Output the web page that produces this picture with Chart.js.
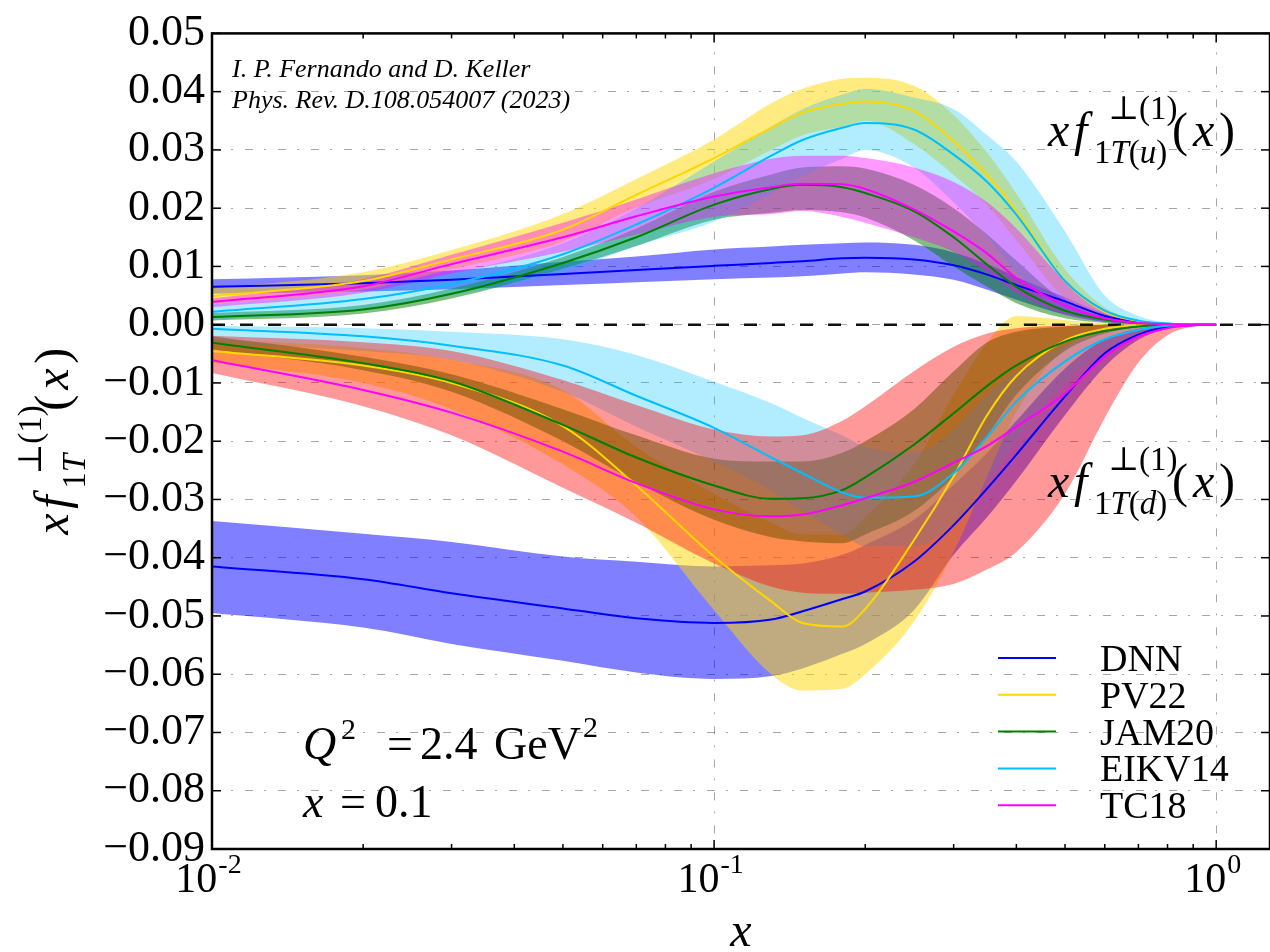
<!DOCTYPE html>
<html>
<head>
<meta charset="utf-8">
<script src="https://cdn.jsdelivr.net/npm/chart.js@4.4.0/dist/chart.umd.min.js"></script>
<style>
  body { margin: 0; background: #fff; }
  canvas { display: block; }
</style>
</head>
<body>
<canvas id="sivers" width="1270" height="952"></canvas>
<script>
// x grid shared by every curve
const xs = [0.01, 0.02, 0.03, 0.05, 0.07, 0.1, 0.13, 0.15, 0.18, 0.2, 0.25, 0.3, 0.35, 0.4, 0.5, 0.6, 0.7, 0.8, 0.9, 1.0];
const xMax = 1.28;
const xTicks = [0.01, 0.1, 1];
const yTicks = [0.05, 0.04, 0.03, 0.02, 0.01, 0, -0.01, -0.02, -0.03, -0.04, -0.05, -0.06, -0.07, -0.08, -0.09];

// u quark: central value, upper and lower edge of the band
const dnnU   = [.0065, .0071, .0077, .0087, .0094, .0101, .0106, .0109, .0114, .0115, .0112, .0102, .0086, .0068, .0040, .0015, .0005, .0001, 0, 0];
const dnnUHi = [.0078, .0085, .0093, .0108, .0117, .0129, .0134, .0137, .0140, .0141, .0137, .0124, .0104, .0082, .0047, .0019, .0006, .0002, 0, 0];
const dnnULo = [.0053, .0057, .0061, .0068, .0073, .0078, .0081, .0083, .0088, .0090, .0086, .0077, .0060, .0043, .0017, .0005, .0001, 0, 0, 0];

const pvU   = [.0049, .0075, .0112, .0163, .0223, .0286, .0338, .0364, .0379, .0383, .0367, .0315, .0257, .0196, .0075, .0022, .0006, .0001, 0, 0];
const pvUHi = [.0062, .0090, .0128, .0190, .0250, .0318, .0380, .0405, .0422, .0424, .0410, .0360, .0295, .0225, .0095, .0030, .0008, .0002, 0, 0];
const pvULo = [.0036, .0060, .0095, .0143, .0201, .0250, .0300, .0325, .0340, .0350, .0310, .0257, .0205, .0145, .0045, .0012, .0003, 0, 0, 0];

const jamU   = [.0013, .0026, .0053, .0106, .0150, .0206, .0233, .0240, .0236, .0226, .0195, .0150, .0103, .0065, .0024, .0009, .0003, .0001, 0, 0];
const jamUHi = [.0020, .0034, .0062, .0116, .0165, .0228, .0258, .0270, .0272, .0268, .0240, .0200, .0155, .0110, .0040, .0013, .0004, .0001, 0, 0];
const jamULo = [.0007, .0019, .0045, .0096, .0135, .0180, .0192, .0197, .0193, .0184, .0145, .0100, .0065, .0037, .0011, .0003, 0, 0, 0, 0];

const eikU   = [.0022, .0044, .0070, .0121, .0172, .0235, .0290, .0317, .0338, .0346, .0335, .0292, .0245, .0189, .0075, .0024, .0007, .0002, 0, 0];
const eikUHi = [.0035, .0060, .0088, .0140, .0200, .0280, .0340, .0370, .0395, .0405, .0390, .0370, .0325, .0280, .0160, .0050, .0015, .0004, .0001, 0];
const eikULo = [.0008, .0025, .0050, .0090, .0135, .0177, .0225, .0255, .0285, .0300, .0270, .0210, .0150, .0090, .0020, .0005, .0001, 0, 0, 0];

const tcU   = [.0039, .0066, .0104, .0150, .0186, .0220, .0236, .0242, .0241, .0233, .0198, .0160, .0122, .0080, .0033, .0011, .0003, .0001, 0, 0];
const tcUHi = [.0045, .0078, .0120, .0175, .0215, .0260, .0285, .0290, .0290, .0286, .0270, .0245, .0210, .0165, .0075, .0025, .0007, .0001, 0, 0];
const tcULo = [.0030, .0055, .0088, .0125, .0155, .0185, .0190, .0195, .0185, .0175, .0150, .0125, .0090, .0055, .0018, .0005, .0001, 0, 0, 0];

// d quark
const dnnD   = [-.0415, -.0437, -.0461, -.0487, -.0504, -.0512, -.0506, -.0492, -.0471, -.0458, -.0407, -.0344, -.0281, -.0223, -.0123, -.0049, -.0017, -.0004, -.0001, 0];
const dnnDHi = [-.0337, -.0359, -.0373, -.0398, -.0407, -.0415, -.0413, -.0410, -.0395, -.0378, -.0335, -.0275, -.0220, -.0165, -.0075, -.0025, -.0007, -.0001, 0, 0];
const dnnDLo = [-.0495, -.0520, -.0548, -.0577, -.0597, -.0608, -.0603, -.0590, -.0565, -.0548, -.0490, -.0395, -.0330, -.0268, -.0155, -.0072, -.0026, -.0007, -.0001, 0];

const pvD   = [-.0045, -.0070, -.0100, -.0174, -.0276, -.0398, -.0475, -.0512, -.0518, -.0488, -.0370, -.0260, -.0155, -.0088, -.0027, -.0007, -.0001, 0, 0, 0];
const pvDHi = [-.0025, -.0040, -.0060, -.0112, -.0210, -.0290, -.0340, -.0360, -.0360, -.0330, -.0240, -.0120, -.0030, .0015, .0008, .0002, 0, 0, 0, 0];
const pvDLo = [-.0065, -.0100, -.0145, -.0240, -.0330, -.0490, -.0600, -.0628, -.0625, -.0600, -.0510, -.0390, -.0260, -.0150, -.0040, -.0010, -.0002, 0, 0, 0];

const jamD   = [-.0031, -.0066, -.0097, -.0172, -.0228, -.0276, -.0299, -.0298, -.0284, -.0262, -.0206, -.0152, -.0105, -.0070, -.0029, -.0011, -.0003, 0, 0, 0];
const jamDHi = [-.0020, -.0055, -.0085, -.0145, -.0190, -.0230, -.0235, -.0235, -.0220, -.0200, -.0145, -.0080, -.0030, -.0012, -.0003, 0, 0, 0, 0, 0];
const jamDLo = [-.0042, -.0078, -.0115, -.0200, -.0270, -.0335, -.0365, -.0372, -.0375, -.0360, -.0320, -.0260, -.0190, -.0120, -.0045, -.0015, -.0004, 0, 0, 0];

const eikD   = [-.0007, -.0020, -.0036, -.0070, -.0122, -.0177, -.0228, -.0255, -.0288, -.0297, -.0295, -.0255, -.0192, -.0132, -.0063, -.0025, -.0009, -.0002, 0, 0];
const eikDHi = [-.0002, -.0006, -.0012, -.0025, -.0052, -.0098, -.0135, -.0160, -.0190, -.0210, -.0220, -.0180, -.0120, -.0080, -.0035, -.0012, -.0004, 0, 0, 0];
const eikDLo = [-.0032, -.0045, -.0060, -.0115, -.0175, -.0235, -.0285, -.0320, -.0360, -.0380, -.0380, -.0340, -.0270, -.0200, -.0100, -.0045, -.0016, -.0004, 0, 0];

const tcD   = [-.0061, -.0112, -.0151, -.0218, -.0272, -.0317, -.0329, -.0326, -.0310, -.0298, -.0270, -.0237, -.0208, -.0175, -.0118, -.0055, -.0020, -.0006, -.0001, 0];
const tcDHi = [-.0019, -.0030, -.0045, -.0095, -.0138, -.0180, -.0192, -.0190, -.0165, -.0140, -.0080, -.0038, -.0015, -.0006, -.0002, 0, 0, 0, 0, 0];
const tcDLo = [-.0083, -.0140, -.0190, -.0280, -.0340, -.0410, -.0450, -.0460, -.0462, -.0460, -.0455, -.0445, -.0420, -.0390, -.0290, -.0160, -.0065, -.0018, -.0003, 0];

const models = [
  { name: 'DNN',    color: '#0000ff', bandU: 'rgba(0,0,255,0.5)',    bandD: 'rgba(0,0,255,0.5)',    u: [dnnU, dnnUHi, dnnULo], d: [dnnD, dnnDHi, dnnDLo] },
  { name: 'PV22',   color: '#ffd700', bandU: 'rgba(255,215,0,0.5)',  bandD: 'rgba(255,215,0,0.5)',  u: [pvU, pvUHi, pvULo],    d: [pvD, pvDHi, pvDLo] },
  { name: 'JAM20',  color: '#008000', bandU: 'rgba(0,128,0,0.5)',    bandD: 'rgba(0,128,0,0.5)',    u: [jamU, jamUHi, jamULo], d: [jamD, jamDHi, jamDLo] },
  { name: 'EIKV14', color: '#00bfff', bandU: 'rgba(0,191,255,0.3)',  bandD: 'rgba(0,191,255,0.3)',  u: [eikU, eikUHi, eikULo], d: [eikD, eikDHi, eikDLo] },
  { name: 'TC18',   color: '#ff00ff', bandU: 'rgba(255,0,255,0.4)',  bandD: 'rgba(255,0,0,0.4)',    u: [tcU, tcUHi, tcULo],    d: [tcD, tcDHi, tcDLo] }
];

const pts = arr => xs.map((x, i) => ({ x, y: arr[i] }));
const smooth = { pointRadius: 0, cubicInterpolationMode: 'monotone' };

const datasets = [];
// bands: upper edge fills down to the lower edge that follows it
models.forEach((m, k) => {
  [[m.u, m.bandU], [m.d, m.bandD]].forEach(([[, hi, lo], col]) => {
    datasets.push({ ...smooth, data: pts(hi), fill: '+1', backgroundColor: col, borderColor: 'transparent', borderWidth: 1, order: 20 - k });
    datasets.push({ ...smooth, data: pts(lo), fill: false, borderColor: 'transparent', borderWidth: 1, order: 20 - k });
  });
});
datasets.push({ data: [{ x: xs[0], y: 0 }, { x: xMax, y: 0 }], borderColor: '#111', borderWidth: 2.5, borderDash: [13, 15], pointRadius: 0, fill: false, order: 8 });
models.forEach((m, k) => {
  [m.u[0], m.d[0]].forEach(mid => {
    datasets.push({ ...smooth, label: m.name, data: pts(mid), borderColor: m.color, borderWidth: 2, fill: false, order: 5 - k });
  });
});

const font = (size, italic) => `${italic ? 'italic ' : ''}${size}px "Liberation Serif", "DejaVu Serif", serif`;

// lays out a run of text pieces; "at" jumps to an offset from the start
function run(ctx, x0, y0, parts, draw = true) {
  let cx = x0, end = x0;
  for (const p of parts) {
    if (p.at !== undefined) cx = x0 + p.at;
    ctx.font = font(p.s, p.i);
    if (draw) ctx.fillText(p.t, cx, y0 + (p.dy || 0));
    cx += ctx.measureText(p.t).width;
    end = Math.max(end, cx);
  }
  return end - x0;
}

const fLabel = sub => [
  { t: 'x', s: 48, i: true, at: 0 },
  { t: 'f', s: 48, i: true, at: 26 },
  { t: '\u22A5(1)', s: 33, at: 60, dy: -27 },
  { t: '1', s: 33, at: 46, dy: 17 }, { t: 'T', s: 33, i: true, dy: 17 }, ...sub,
  { t: '(', s: 48, at: 124 }, { t: 'x', s: 48, i: true, at: 145 }, { t: ')', s: 48, at: 171 }
];
const flavour = q => [{ t: '(', s: 33, dy: 17 }, { t: q, s: 33, i: true, dy: 17 }, { t: ')', s: 33, dy: 17 }];

const decor = {
  id: 'decor',
  afterDraw(chart) {
    const { ctx, chartArea: a, scales: { x, y } } = chart;
    ctx.save();
    ctx.strokeStyle = '#000';
    ctx.fillStyle = '#000';

    // inward tick marks on all four sides
    ctx.lineWidth = 1.5;
    const seg = (x1, y1, x2, y2) => { ctx.beginPath(); ctx.moveTo(x1, y1); ctx.lineTo(x2, y2); ctx.stroke(); };
    yTicks.forEach(v => {
      const py = y.getPixelForValue(v);
      seg(a.left, py, a.left + 9, py);
      seg(a.right, py, a.right - 9, py);
    });
    for (let e = -2; e <= 0; e++) {
      for (let m = 1; m <= 9; m++) {
        const v = m * Math.pow(10, e);
        if (v > xMax) break;
        const px = x.getPixelForValue(v);
        const len = m === 1 ? 9 : 5;
        seg(px, a.bottom, px, a.bottom - len);
        seg(px, a.top, px, a.top + len);
      }
    }
    ctx.lineWidth = 2.5;
    ctx.strokeRect(a.left, a.top, a.right - a.left, a.bottom - a.top);

    // decade labels on the x axis
    ctx.textBaseline = 'alphabetic';
    xTicks.forEach(v => {
      const px = x.getPixelForValue(v);
      const exp = String(Math.round(Math.log10(v)));
      ctx.font = font(42);
      const wb = ctx.measureText('10').width;
      ctx.font = font(28);
      const we = ctx.measureText(exp).width;
      const left = px - 4 - (wb + we) / 2;
      ctx.font = font(42);
      ctx.fillText('10', left, 892);
      ctx.font = font(28);
      ctx.fillText(exp, left + wb + 1, 873);
    });

    // axis titles
    ctx.font = font(48, true);
    ctx.textAlign = 'center';
    ctx.fillText('x', (a.left + a.right) / 2, 946);
    ctx.textAlign = 'left';

    const yl = fLabel([]);
    const w = run(ctx, 0, 0, yl, false);
    ctx.save();
    ctx.translate(68, (a.top + a.bottom) / 2 + w / 2);
    ctx.rotate(-Math.PI / 2);
    run(ctx, 0, 0, yl);
    ctx.restore();

    // curve labels
    run(ctx, 1048, 146, fLabel(flavour('u')));
    run(ctx, 1048, 497, fLabel(flavour('d')));

    // reference and kinematics
    ctx.font = font(26, true);
    ctx.fillText('I. P. Fernando and D. Keller', 232, 77);
    ctx.fillText('Phys. Rev. D.108.054007 (2023)', 232, 108);

    run(ctx, 303, 759, [
      { t: 'Q', s: 46, i: true },
      { t: '2', s: 30, at: 38, dy: -20 },
      { t: '=', s: 46, at: 84 },
      { t: '2.4', s: 46, at: 117 },
      { t: 'GeV', s: 46, at: 191 },
      { t: '2', s: 30, at: 280, dy: -22 }
    ]);
    run(ctx, 303, 817, [
      { t: 'x', s: 46, i: true },
      { t: '=', s: 46, at: 37 },
      { t: '0.1', s: 46, at: 72 }
    ]);

    // legend
    models.forEach((m, k) => {
      const ly = 658 + k * 36.8;
      ctx.strokeStyle = m.color;
      ctx.lineWidth = 2;
      seg(998, ly, 1056, ly);
      ctx.font = font(38);
      ctx.fillText(m.name, 1100, ly + 13);
    });
    ctx.restore();
  }
};

const gridColor = 'rgba(0,0,0,0.35)';
const gridDash = [8, 11, 2, 12];

new Chart(document.getElementById('sivers'), {
  type: 'line',
  data: { datasets },
  options: {
    responsive: false,
    animation: false,
    devicePixelRatio: 1,
    layout: { padding: { top: 27, right: 0, bottom: 0, left: 0 } },
    plugins: { legend: { display: false }, tooltip: { enabled: false } },
    scales: {
      x: {
        type: 'logarithmic',
        min: 0.01,
        max: xMax,
        afterBuildTicks: s => { s.ticks = xTicks.map(v => ({ value: v })); },
        afterFit: s => { s.height = 103; },
        ticks: { display: false },
        grid: { color: gridColor, lineWidth: 1, drawTicks: false },
        border: { display: false, dash: gridDash }
      },
      y: {
        min: -0.09,
        max: 0.05,
        afterBuildTicks: s => { s.ticks = yTicks.map(v => ({ value: v })); },
        afterFit: s => { s.width = 212; },
        ticks: {
          autoSkip: false,
          padding: 7,
          color: '#000',
          font: { family: '"Liberation Serif", serif', size: 44 },
          callback: v => (v < -1e-9 ? '\u2212' : '') + Math.abs(v).toFixed(2)
        },
        grid: { color: gridColor, lineWidth: 1, drawTicks: false },
        border: { display: false, dash: gridDash }
      }
    }
  },
  plugins: [decor]
});
</script>
</body>
</html>
